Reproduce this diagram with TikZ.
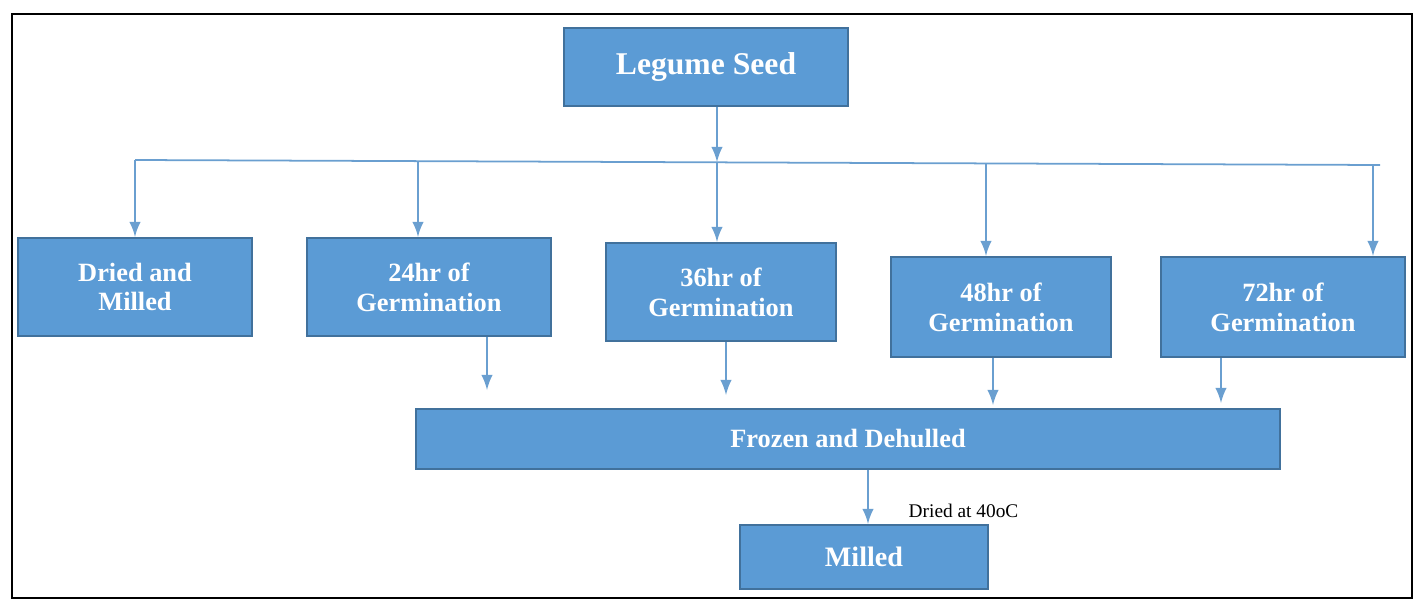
\documentclass[tikz,border=0pt]{standalone}
\usepackage{fontspec}
\setmainfont{Liberation Serif}
\usetikzlibrary{arrows}
\definecolor{boxfill}{HTML}{5B9BD5}
\definecolor{boxline}{HTML}{41719C}
\definecolor{linecol}{HTML}{6A9FD0}
\tikzset{
  stage/.style = {draw=boxline, fill=boxfill, line width=0.6pt, text=white, font=\bfseries\fontsize{7.5}{8.5}\selectfont, align=center, inner sep=0pt},
  flow/.style = {draw=linecol, line width=0.5pt, -latex}
}
\begin{document}
\begin{tikzpicture}[x=0.01cm,y=-0.01cm]
\useasboundingbox (0,0) rectangle (1423,606);
\draw[line width=0.8pt] (12,14) rectangle (1412,598);

\node [stage, font=\bfseries\fontsize{9}{10}\selectfont, minimum width=2.83cm, minimum height=0.78cm] (seed) at (706,67) {Legume Seed};

\node [stage, minimum width=2.34cm, minimum height=0.98cm] (dm) at (135,287) {Dried and\\Milled};
\node [stage, minimum width=2.44cm, minimum height=0.98cm] (g24) at (429,287) {24hr of\\Germination};
\node [stage, minimum width=2.29cm, minimum height=0.98cm] (g36) at (721,292) {36hr of\\Germination};
\node [stage, minimum width=2.20cm, minimum height=1.00cm] (g48) at (1001,307) {48hr of\\Germination};
\node [stage, minimum width=2.44cm, minimum height=1.00cm] (g72) at (1283,307) {72hr of\\Germination};

\node [stage, minimum width=8.63cm, minimum height=0.60cm] (frozen) at (848,439) {Frozen and Dehulled};
\node [stage, font=\bfseries\fontsize{8}{9}\selectfont, minimum width=2.48cm, minimum height=0.64cm] (milled) at (864,557) {Milled};

% distribution line
\coordinate (hl) at (135,160);
\coordinate (h24) at (418,161);
\coordinate (hm) at (717,162);
\coordinate (h48) at (986,163);
\coordinate (h72) at (1373,165);
\coordinate (hr) at (1380,165);
\draw [linecol, line width=0.5pt] (hl) -- (hr);
\draw [flow] (seed.south -| hm) -- (hm);
\draw [flow] (hl) -- (dm.north -| hl);
\draw [flow] (h24) -- (g24.north -| h24);
\draw [flow] (hm) -- (g36.north -| hm);
\draw [flow] (h48) -- (g48.north -| h48);
\draw [flow] (h72) -- (g72.north -| h72);

% into frozen
\coordinate (f24) at (487,390);
\coordinate (f36) at (726,395);
\coordinate (f48) at (993,405);
\coordinate (f72) at (1221,403);
\coordinate (fm) at (868,0);
\draw [flow] (g24.south -| f24) -- (f24);
\draw [flow] (g36.south -| f36) -- (f36);
\draw [flow] (g48.south -| f48) -- (f48);
\draw [flow] (g72.south -| f72) -- (f72);

\draw [flow] (frozen.south -| fm) -- node[right, font=\fontsize{5.5}{6}\selectfont, text=black, xshift=8pt, yshift=-4pt] {Dried at 40oC} (milled.north -| fm);
\end{tikzpicture}
\end{document}
